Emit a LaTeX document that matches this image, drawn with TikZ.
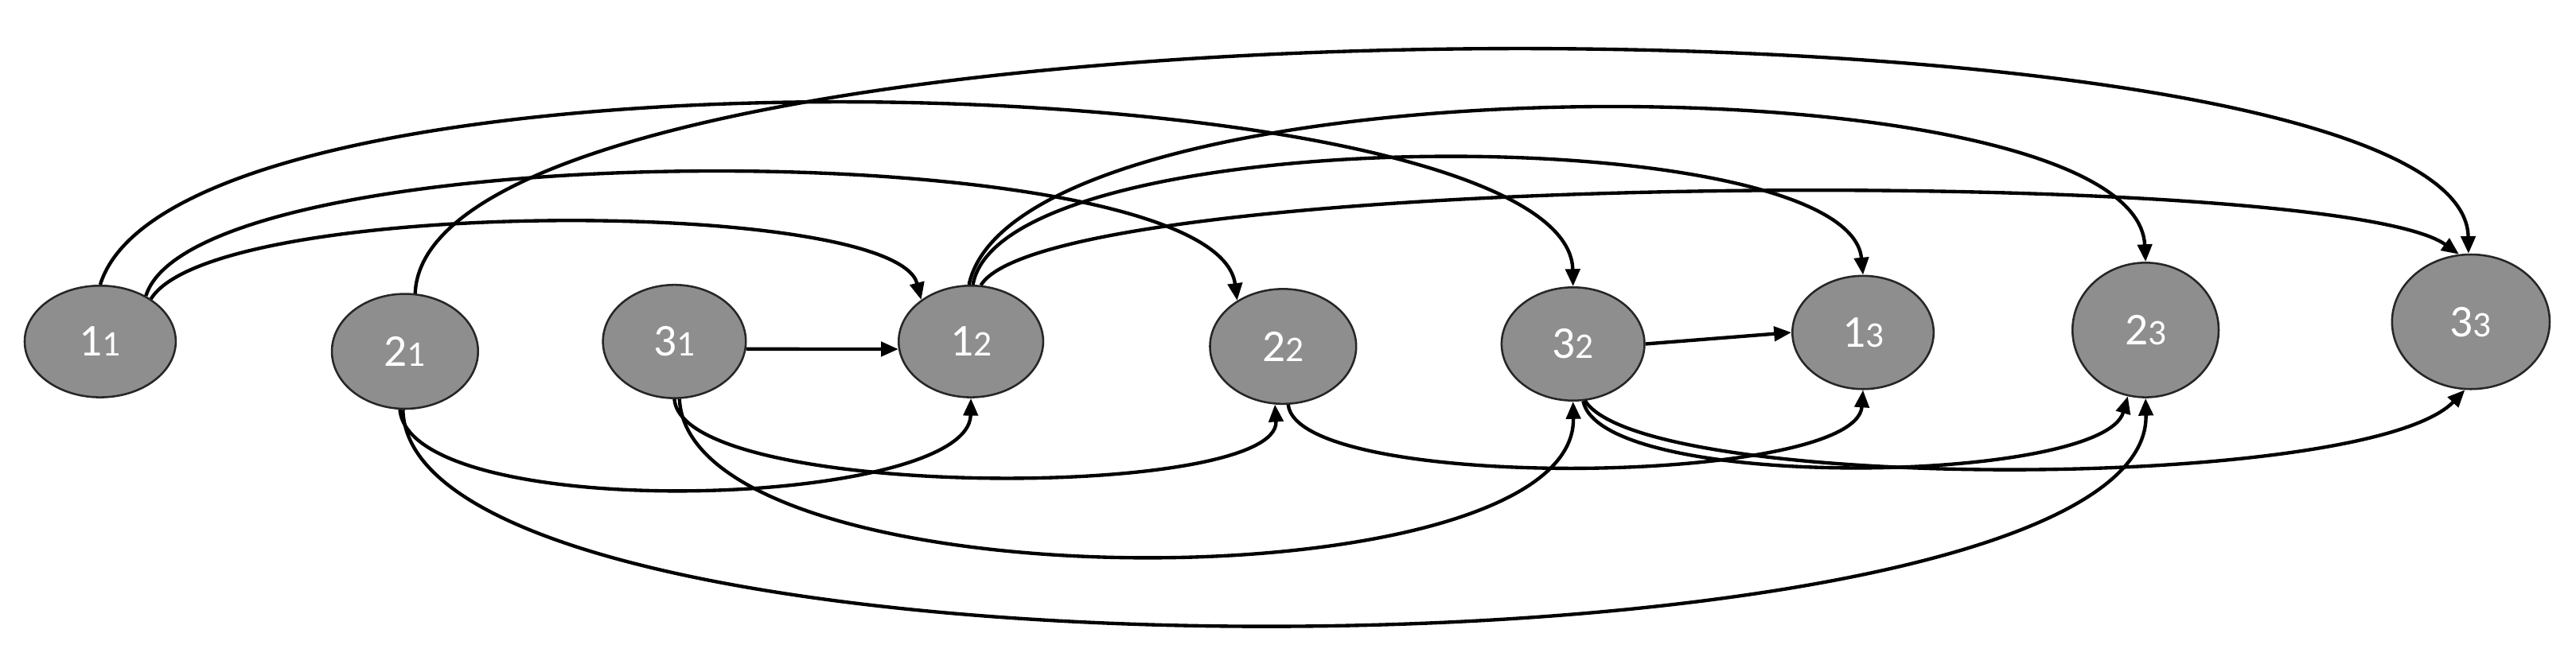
\documentclass[tikz,border=0pt]{standalone}
\usepackage{fontspec}
\setmainfont{Carlito}
\usetikzlibrary{arrows.meta,shapes.geometric}
\definecolor{nodegray}{RGB}{142,142,142}
\newcommand{\mylab}[2]{{\fontsize{15.8pt}{16pt}\selectfont #1}{\fontsize{12.5pt}{13pt}\selectfont #2}}
\begin{document}
\begin{tikzpicture}[x=0.02cm,y=-0.02cm,
  vnode/.style={ellipse, draw=black!85, line width=0.7pt, fill=nodegray, inner sep=0pt, text=white},
  edge/.style={line width=1.2pt, -{Triangle[length=6pt,width=5pt]}}]
\useasboundingbox (0,0) rectangle (1568,409);
\node[vnode, minimum width=1.84cm, minimum height=1.36cm] (n11) at (61,208) {\mylab{1}{1}};
\node[vnode, minimum width=1.78cm, minimum height=1.40cm] (n21) at (246.5,214) {\mylab{2}{1}};
\node[vnode, minimum width=1.74cm, minimum height=1.38cm] (n31) at (410.5,208) {\mylab{3}{1}};
\node[vnode, minimum width=1.76cm, minimum height=1.36cm] (n12) at (591,208) {\mylab{1}{2}};
\node[vnode, minimum width=1.78cm, minimum height=1.40cm] (n22) at (781,211) {\mylab{2}{2}};
\node[vnode, minimum width=1.74cm, minimum height=1.38cm] (n32) at (957.5,209.5) {\mylab{3}{2}};
\node[vnode, minimum width=1.72cm, minimum height=1.38cm] (n13) at (1134,202.5) {\mylab{1}{3}};
\node[vnode, minimum width=1.78cm, minimum height=1.64cm] (n23) at (1306,201) {\mylab{2}{3}};
\node[vnode, minimum width=1.92cm, minimum height=1.64cm] (n33) at (1504,196) {\mylab{3}{3}};
% upper arcs
\draw[edge] (n11.40) .. controls (130,120) and (545,120) .. (n12.140);
\draw[edge] (n11.45) .. controls (120,80) and (740,80) .. (n22.135);
\draw[edge] (n11.north) .. controls (110,15) and (955,38) .. (n32.north);
\draw[edge] (n21.80) .. controls (260,-14) and (1500,-14) .. (n33.92);
\draw[edge] (n12.88) .. controls (610,72) and (1125,72) .. (n13.north);
\draw[edge] (n12.92) .. controls (620,33) and (1300,33) .. (n23.north);
\draw[edge] (n12.80) .. controls (640,103) and (1420,100) .. (n33.100);
% straight
\draw[edge] (n31.-6) -- (n12.186);
\draw[edge] (n32.east) -- (n13.west);
% lower arcs
\draw[edge] (n21.265) .. controls (250,320) and (590,310) .. (n12.south);
\draw[edge] (n21.268) .. controls (250,430) and (1310,420) .. (n23.south);
\draw[edge] (n31.south) .. controls (415,305) and (780,305) .. (n22.262);
\draw[edge] (n31.275) .. controls (420,370) and (960,370) .. (n32.south);
\draw[edge] (n22.275) .. controls (790,300) and (1130,296) .. (n13.south);
\draw[edge] (n32.280) .. controls (975,300) and (1280,295) .. (n23.255);
\draw[edge] (n32.282) .. controls (1000,300) and (1440,300) .. (n33.265);
\end{tikzpicture}
\end{document}
